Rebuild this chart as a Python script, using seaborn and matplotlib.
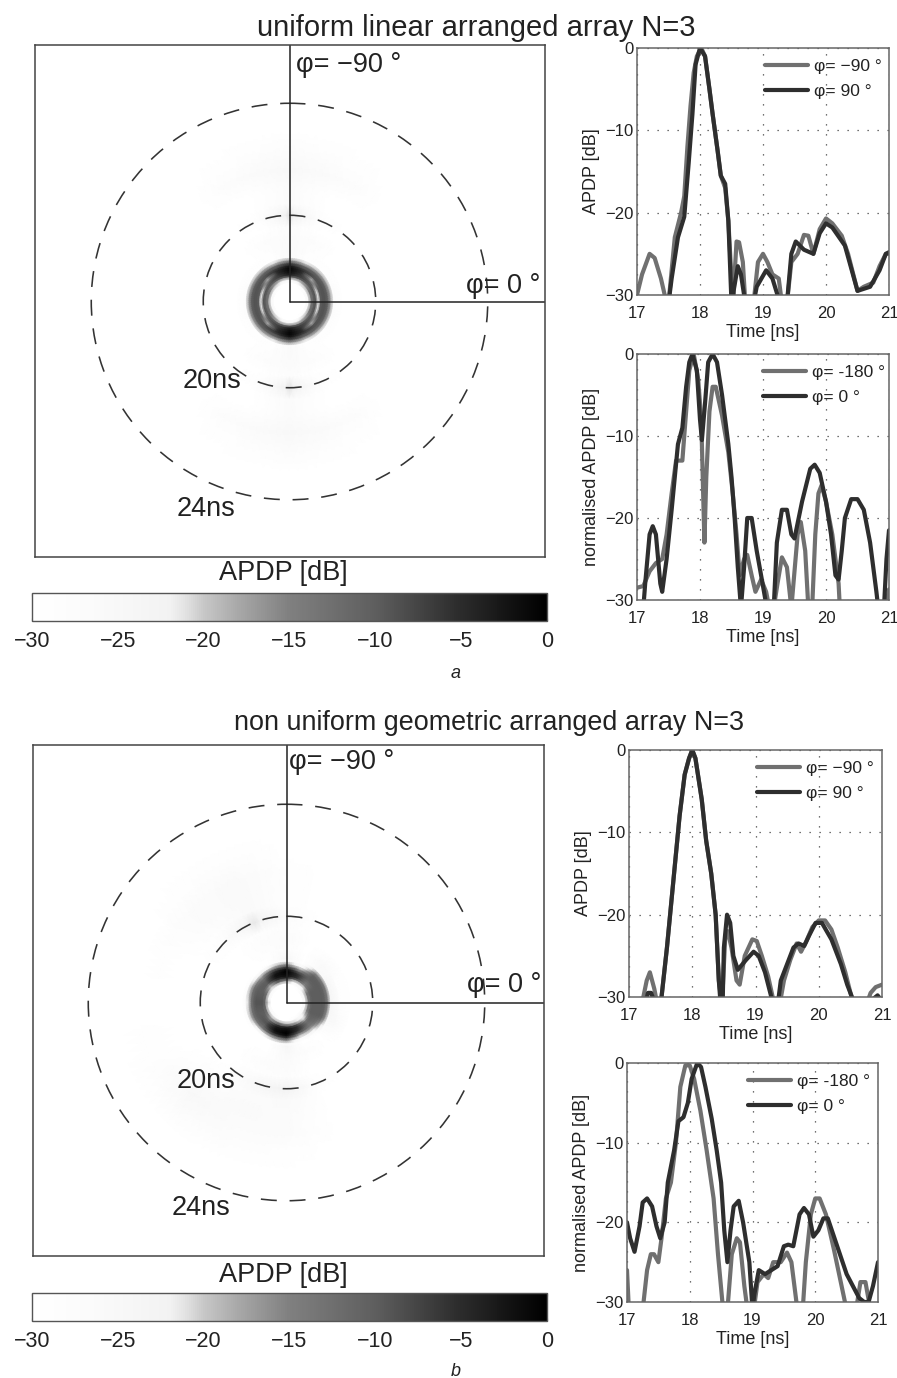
import numpy as np
import seaborn as sns
import matplotlib.pyplot as plt
from matplotlib.colors import LinearSegmentedColormap, Normalize
from matplotlib.cm import ScalarMappable

W, H = 897, 1378

# angles and delays of the polar maps
phi_deg = [0, 22.5, 45, 67.5, 90, 112.5, 135, 157.5, 180, 202.5, 225, 247.5, 270, 292.5, 315, 337.5]
tau_ns = [17.5, 17.6, 17.7, 17.8, 17.87, 17.95, 18.03, 18.12, 18.2, 18.3, 18.4, 18.5, 18.8, 19.2, 19.6, 20.0, 20.4, 21.0, 21.6, 22.2, 23.0, 25.0]

# rows follow tau_ns, columns follow phi_deg
map_a = [
    [-30, -30, -30, -30, -30, -30, -30, -30, -30, -30, -30, -30, -30, -30, -30, -30],
    [-24, -24, -28, -30, -30, -30, -28, -24, -24, -24, -28, -30, -30, -30, -28, -24],
    [-14, -14, -18, -22, -24, -22, -18, -14, -14, -14, -18, -22, -24, -22, -18, -14],
    [-10, -10, -11, -11, -11, -11, -11, -10, -10, -10, -11, -11, -11, -11, -11, -10],
    [-9, -9, -9, -7, -4, -7, -9, -9, -9, -9, -9, -7, -4, -7, -9, -9],
    [-24, -21, -11, -6, -2, -6, -11, -21, -24, -21, -11, -6, -2, -6, -11, -21],
    [-10, -10, -19, -5, -1, -5, -19, -10, -10, -10, -19, -5, -1, -5, -19, -10],
    [-9, -9, -9, -5, -1, -5, -9, -9, -9, -9, -9, -5, -1, -5, -9, -9],
    [-9, -9, -9, -8, -3, -8, -9, -9, -9, -9, -9, -8, -3, -8, -9, -9],
    [-11, -11, -12, -13, -8, -13, -12, -11, -11, -11, -12, -13, -8, -13, -12, -11],
    [-18, -18, -19, -21, -17, -21, -19, -18, -18, -18, -19, -21, -17, -21, -19, -18],
    [-28, -28, -29, -30, -26, -30, -29, -28, -28, -28, -29, -30, -26, -30, -29, -28],
    [-30, -30, -30, -29, -26, -29, -30, -30, -30, -30, -30, -29, -26, -29, -30, -30],
    [-30, -30, -30, -28, -27, -28, -30, -30, -30, -30, -30, -28, -27, -28, -30, -30],
    [-30, -30, -30, -30, -28, -30, -30, -30, -30, -30, -30, -30, -28, -30, -30, -30],
    [-30, -30, -30, -29, -21, -29, -30, -30, -30, -30, -30, -29, -21, -29, -30, -30],
    [-30, -30, -30, -30, -27, -30, -30, -30, -30, -30, -30, -30, -27, -30, -30, -30],
    [-30, -30, -30, -30, -27, -30, -30, -30, -30, -30, -30, -30, -27, -30, -30, -30],
    [-30, -30, -30, -27, -25, -27, -30, -30, -30, -30, -30, -27, -25, -27, -30, -30],
    [-30, -30, -30, -29, -27, -29, -30, -30, -30, -30, -30, -29, -27, -29, -30, -30],
    [-30, -30, -30, -30, -30, -30, -30, -30, -30, -30, -30, -30, -30, -30, -30, -30],
    [-30, -30, -30, -30, -30, -30, -30, -30, -30, -30, -30, -30, -30, -30, -30, -30],
]
map_b = [
    [-30, -30, -30, -30, -30, -30, -30, -30, -30, -30, -30, -30, -30, -30, -30, -30],
    [-22, -24, -26, -28, -30, -30, -26, -24, -20, -24, -26, -30, -30, -30, -28, -22],
    [-14, -15, -24, -20, -18, -16, -18, -13, -11, -13, -20, -14, -16, -24, -24, -14],
    [-11, -11, -20, -8, -5, -6, -13, -10, -9, -10, -16, -6, -5, -12, -16, -11],
    [-10, -10, -14, -5, -2, -3, -10, -10, -9, -10, -10, -3, -2, -6, -14, -10],
    [-10, -10, -12, -5, -1, -2, -9, -10, -9, -10, -10, -2, -1, -5, -13, -10],
    [-10, -10, -13, -6, 0, -2, -10, -10, -9, -10, -11, -3, 0, -6, -11, -10],
    [-10, -10, -14, -12, -2, -5, -12, -11, -11, -11, -14, -6, -2, -12, -10, -10],
    [-10, -10, -17, -20, -7, -11, -15, -13, -14, -13, -17, -12, -8, -18, -10, -10],
    [-11, -11, -22, -27, -17, -20, -23, -19, -21, -19, -24, -21, -17, -26, -11, -11],
    [-15, -16, -28, -30, -26, -30, -30, -28, -28, -28, -30, -29, -27, -30, -16, -15],
    [-24, -25, -30, -30, -24, -30, -30, -30, -30, -30, -30, -30, -24, -30, -26, -24],
    [-29, -26, -30, -28, -26, -30, -30, -30, -30, -30, -30, -29, -28, -30, -26, -29],
    [-30, -30, -30, -30, -27, -28, -30, -30, -30, -30, -30, -28, -27, -30, -30, -30],
    [-30, -30, -30, -30, -28, -29, -30, -30, -30, -30, -30, -29, -28, -30, -30, -30],
    [-30, -30, -30, -29, -22, -25, -30, -30, -30, -30, -28, -21, -27, -30, -30, -30],
    [-30, -30, -30, -30, -26, -27, -29, -30, -30, -30, -29, -26, -29, -30, -30, -30],
    [-30, -30, -30, -30, -27, -26, -27, -30, -30, -30, -27, -26, -29, -30, -30, -30],
    [-30, -30, -30, -30, -27, -27, -25, -29, -30, -29, -27, -26, -29, -30, -30, -30],
    [-30, -30, -30, -30, -29, -28, -27, -29, -30, -30, -29, -28, -30, -30, -30, -30],
    [-30, -30, -30, -30, -30, -30, -30, -30, -30, -30, -30, -30, -30, -30, -30, -30],
    [-30, -30, -30, -30, -30, -30, -30, -30, -30, -30, -30, -30, -30, -30, -30, -30],
]

# grey scale of the colour bar
cmap_db = [-30, -26, -22, -21, -20, -18, -15, -10, -5, 0]
cmap_gray = [1.0, 0.98, 0.95, 0.88, 0.78, 0.66, 0.5, 0.37, 0.17, 0.0]
cbar_ticks = [-30, -25, -20, -15, -10, -5, 0]
ring_delays = [20, 24]

# panel a, top right
t_a1_g = [17.0, 17.08, 17.2, 17.28, 17.38, 17.47, 17.5, 17.6, 17.7, 17.75, 17.8, 17.85, 17.9, 17.95, 18.02, 18.08, 18.15, 18.2, 18.28, 18.33, 18.4, 18.45, 18.5, 18.53, 18.58, 18.62, 18.68, 18.72, 18.85, 18.92, 19.0, 19.07, 19.15, 19.25, 19.3, 19.38, 19.45, 19.55, 19.65, 19.72, 19.8, 19.9, 20.0, 20.1, 20.25, 20.35, 20.5, 20.6, 20.75, 20.85, 20.95, 21.0]
y_a1_g = [-30, -27.5, -25, -25.5, -28, -31, -31, -23, -20, -18, -12, -7, -3, -1, 0, -1, -5, -8, -12.5, -15.5, -17, -21, -28, -30, -23.5, -23.6, -26, -31, -31, -26, -25, -26, -27.5, -28, -31, -31, -26, -25, -22.7, -22.8, -25, -22, -20.7, -21.3, -22.8, -25, -29.5, -29, -28.5, -26.5, -25, -25]
t_a1_d = [17.5, 17.55, 17.65, 17.75, 17.82, 17.88, 17.93, 18.0, 18.08, 18.15, 18.2, 18.28, 18.33, 18.4, 18.45, 18.5, 18.6, 18.65, 18.72, 18.85, 18.9, 19.05, 19.15, 19.25, 19.38, 19.45, 19.52, 19.65, 19.8, 19.9, 20.0, 20.1, 20.3, 20.5, 20.7, 20.85, 20.95, 21.0]
y_a1_d = [-31, -28, -23, -20.5, -14, -8, -2, 0, -1, -5, -8, -12.5, -15.5, -16.5, -21, -31, -26.5, -27.5, -31, -31, -29, -27, -28, -30.5, -31, -25, -23.5, -24.5, -25, -22.5, -21.3, -21.8, -24, -29.5, -29, -27, -25, -24.8]

# panel a, bottom right
t_a2_g = [17.0, 17.1, 17.2, 17.3, 17.4, 17.47, 17.55, 17.62, 17.72, 17.77, 17.83, 17.9, 17.97, 18.02, 18.07, 18.1, 18.15, 18.2, 18.25, 18.35, 18.45, 18.52, 18.58, 18.63, 18.7, 18.75, 18.82, 18.88, 18.97, 19.05, 19.1, 19.17, 19.23, 19.3, 19.38, 19.45, 19.55, 19.6, 19.67, 19.72, 19.78, 19.83, 19.88, 19.93, 20.0, 20.1, 20.2, 20.22, 20.95, 21.0]
y_a2_g = [-28.5, -28.3, -26.5, -25.5, -25, -22, -17, -13, -13, -8, -2, 0, -3, -8, -23, -15, -7, -4, -4, -7.5, -12, -17, -22, -27, -25, -24.5, -27, -29, -27.5, -29, -31, -31, -28, -24.8, -26, -31, -22, -20.5, -24, -31, -31, -22, -17, -16, -18, -22, -28, -31, -31, -28.7]
t_a2_d = [17.1, 17.13, 17.2, 17.25, 17.3, 17.37, 17.4, 17.47, 17.55, 17.6, 17.65, 17.72, 17.78, 17.83, 17.88, 17.95, 18.0, 18.03, 18.08, 18.13, 18.2, 18.27, 18.35, 18.45, 18.5, 18.55, 18.6, 18.65, 18.7, 18.75, 18.82, 18.9, 18.97, 19.05, 19.17, 19.22, 19.3, 19.38, 19.45, 19.5, 19.62, 19.75, 19.82, 19.9, 20.0, 20.08, 20.15, 20.2, 20.25, 20.3, 20.4, 20.5, 20.6, 20.7, 20.8, 20.83, 20.92, 20.96, 21.0]
y_a2_d = [-31, -28, -22, -21, -22, -28, -29, -25, -19, -15, -11, -9, -4, -1, 0, -2, -8, -10.5, -6, -1, 0, -1, -5, -11, -15, -20, -26, -31, -26, -20, -20, -24, -27, -30.5, -31, -23, -19, -19, -22, -22.5, -18, -14, -13.5, -14.5, -18, -22, -27, -27.5, -24, -20, -17.7, -17.7, -19, -23, -29, -31, -31, -25, -21.5]

# panel b, top right
t_b1_g = [17.2, 17.28, 17.33, 17.4, 17.45, 17.5, 17.6, 17.7, 17.8, 17.88, 17.95, 18.0, 18.05, 18.15, 18.22, 18.3, 18.37, 18.42, 18.47, 18.52, 18.56, 18.62, 18.7, 18.75, 18.83, 18.95, 19.02, 19.1, 19.2, 19.3, 19.38, 19.45, 19.55, 19.65, 19.72, 19.8, 19.9, 20.0, 20.1, 20.2, 20.3, 20.42, 20.55, 20.75, 20.82, 20.9, 21.0]
y_b1_g = [-31, -28, -27, -29, -31, -31, -24, -16, -8, -3, -1, 0, -1, -6, -11, -15, -20, -28, -31, -23, -22, -24, -28, -28.5, -25, -23, -23.2, -25, -27.5, -31, -31, -28, -25.5, -23.5, -24.5, -23.3, -21.5, -20.7, -20.7, -21.8, -24, -27, -31, -31, -29.5, -28.8, -28.5]
t_b1_d = [17.25, 17.3, 17.35, 17.42, 17.5, 17.6, 17.7, 17.8, 17.88, 17.95, 18.0, 18.05, 18.15, 18.22, 18.3, 18.37, 18.42, 18.45, 18.48, 18.5, 18.55, 18.6, 18.65, 18.72, 18.85, 18.97, 19.05, 19.15, 19.25, 19.35, 19.4, 19.5, 19.6, 19.68, 19.77, 19.85, 19.95, 20.05, 20.2, 20.35, 20.45, 20.55, 20.75, 20.85, 20.93, 21.0]
y_b1_d = [-31, -29.5, -29.5, -31, -31, -24, -16, -8, -3, -1, 0, -1, -6, -11, -15, -20, -28, -31, -31, -24, -20, -21, -25, -26.7, -25.5, -24.5, -25, -27, -30, -31, -28, -26, -24, -23.5, -23.8, -22.5, -21, -21, -23, -26, -28.5, -30.5, -31, -30.3, -29.8, -30.5]

# panel b, bottom right
t_b2_g = [17.0, 17.03, 17.25, 17.32, 17.38, 17.43, 17.5, 17.55, 17.62, 17.7, 17.78, 17.85, 17.93, 18.0, 18.07, 18.17, 18.27, 18.38, 18.45, 18.52, 18.6, 18.67, 18.75, 18.8, 18.87, 18.92, 19.02, 19.08, 19.18, 19.25, 19.33, 19.45, 19.55, 19.62, 19.7, 19.72, 19.8, 19.85, 19.93, 20.0, 20.07, 20.17, 20.3, 20.42, 20.5, 20.65, 20.72, 20.8, 20.88]
y_b2_g = [-26, -31, -31, -26, -24, -24, -25, -22, -17, -15, -10, -3, -0.3, -0.3, -2, -6, -11, -17, -24, -30, -31, -24, -22, -22.5, -28, -31, -31, -27.5, -26.5, -27, -25, -25, -23.8, -25, -30, -31, -31, -25, -19, -17, -17, -19, -23.5, -28, -31, -31, -27.5, -27.5, -31]
t_b2_d = [17.0, 17.05, 17.12, 17.2, 17.25, 17.32, 17.4, 17.47, 17.53, 17.6, 17.65, 17.75, 17.82, 17.9, 17.97, 18.03, 18.12, 18.18, 18.25, 18.35, 18.43, 18.5, 18.55, 18.6, 18.65, 18.7, 18.78, 18.85, 18.95, 19.0, 19.03, 19.1, 19.2, 19.3, 19.4, 19.5, 19.57, 19.65, 19.75, 19.82, 19.9, 19.97, 20.05, 20.13, 20.2, 20.35, 20.5, 20.6, 20.7, 20.78, 20.85, 20.92, 21.0]
y_b2_d = [-20, -22, -23.7, -20.5, -17.5, -17, -18, -20.5, -22, -20, -15, -11, -7.3, -6.8, -5, -2, 0, -0.5, -3, -7, -11, -15, -21, -25, -21, -18, -17.3, -20, -25, -31, -29, -26, -26.5, -26, -25.5, -23, -22.8, -23, -19, -18.2, -19, -21.8, -21, -19.5, -19.5, -23, -26.5, -28, -29.5, -30, -30, -28, -25]

xticks = [17, 18, 19, 20, 21]
yticks = [-30, -20, -10, 0]

sns.set_style("white")
plt.rcParams['font.family'] = ['Liberation Sans', 'DejaVu Sans']
plt.rcParams['axes.unicode_minus'] = True

fig = plt.figure(figsize=(W / 100, H / 100), dpi=100)


def add_ax(x0, y0, x1, y1):
    return fig.add_axes([x0 / W, 1 - y1 / H, (x1 - x0) / W, (y1 - y0) / H])


def put(x, y, s, size=16, **kw):
    kw.setdefault('va', 'center')
    kw.setdefault('color', '#222222')
    fig.text(x / W, 1 - y / H, s, fontsize=size, **kw)


gray_cmap = LinearSegmentedColormap.from_list(
    'apdp', [((d + 30) / 30, (g, g, g)) for d, g in zip(cmap_db, cmap_gray)])
norm = Normalize(-30, 0)


def polar_map(box, centre, table, scale, t0):
    ax = add_ax(*box)
    # shade along true arcs, not chords between the table's angles
    phi = np.array(phi_deg + [360.0])
    z = np.array(table, dtype=float)
    z = np.column_stack([z, z[:, 0]])
    phi_fine = np.arange(0, 361, 3.0)
    z_fine = np.array([np.interp(phi_fine, phi, row) for row in z])
    r = (np.array(tau_ns) - t0) * scale
    rr, pp = np.meshgrid(r, np.deg2rad(phi_fine), indexing='ij')
    ax.pcolormesh(rr * np.cos(pp), rr * np.sin(pp), z_fine, cmap=gray_cmap, norm=norm, shading='gouraud')
    ax.set_xlim(box[0] - centre[0], box[2] - centre[0])
    ax.set_ylim(box[3] - centre[1], box[1] - centre[1])
    for d in ring_delays:
        ax.add_patch(plt.Circle((0, 0), (d - t0) * scale, fill=False, ec='#333333', lw=1.15, ls=(0, (10, 8))))
    ax.plot([0, 0], [0, box[1] - centre[1]], color='#222222', lw=1.1)
    ax.plot([0, box[2] - centre[0]], [0, 0], color='#222222', lw=1.1)
    ax.set_xticks([])
    ax.set_yticks([])
    for s in ax.spines.values():
        s.set_color('#444444')
        s.set_linewidth(1.1)
    return ax


def colorbar(box):
    cax = add_ax(*box)
    cb = fig.colorbar(ScalarMappable(norm=norm, cmap=gray_cmap), cax=cax, orientation='horizontal')
    cb.set_ticks(cbar_ticks)
    cb.ax.tick_params(labelsize=15.5, length=2, width=0.8, direction='in', pad=7, colors='#222222', top=True)
    cb.outline.set_edgecolor('#555555')
    cb.outline.set_linewidth(1.0)


def line_panel(box, t_g, y_g, t_d, y_d, lab_g, lab_d, ylabel, leg_x):
    ax = add_ax(*box)
    sns.lineplot(x=t_g, y=y_g, ax=ax, color='#707070', lw=3.0, sort=False, estimator=None, label=lab_g)
    sns.lineplot(x=t_d, y=y_d, ax=ax, color='#2e2e2e', lw=3.0, sort=False, estimator=None, label=lab_d)
    ax.set_xlim(17, 21)
    ax.set_ylim(-30, 0)
    ax.set_xticks(xticks)
    ax.set_yticks(yticks)
    ax.grid(True, ls=(0, (1, 7)), color='#444444', lw=0.9)
    ax.set_axisbelow(True)
    ax.tick_params(axis='x', labelsize=12, length=0, pad=8, colors='#222222')
    ax.tick_params(axis='y', labelsize=12, length=0, pad=2.5, colors='#222222')
    ax.set_xlabel('Time [ns]', fontsize=13, labelpad=2, color='#222222')
    ax.set_ylabel(ylabel, fontsize=13, labelpad=4, color='#222222')
    for s in ax.spines.values():
        s.set_color('#666666')
        s.set_linewidth(1.1)
    ax.legend(loc='upper left', bbox_to_anchor=(leg_x, 0.955), frameon=False, fontsize=12.5,
              handlelength=2.5, handletextpad=0.35, labelspacing=0.55, borderpad=0, borderaxespad=0,
              labelcolor='#222222')
    return ax


# a
put(476, 28, 'uniform linear arranged array N=3', size=21, ha='center')
polar_map((35, 45, 545, 557), (289.5, 301.5), map_a, 28, 16.92)
put(296, 65, 'φ= −90 °', size=19.5)
put(466, 286, 'φ= 0 °', size=19.5)
put(183, 381, '20ns', size=19.5)
put(177, 509, '24ns', size=19.5)
put(283, 573, 'APDP [dB]', size=19.5, ha='center')
colorbar((32, 593, 547, 621))
put(456, 673, 'a', size=13, style='italic', ha='center')
line_panel((637, 48, 889, 295), t_a1_g, y_a1_g, t_a1_d, y_a1_d, 'φ= −90 °', 'φ= 90 °', 'APDP [dB]', 0.508)
line_panel((637, 354, 889, 600), t_a2_g, y_a2_g, t_a2_d, y_a2_d, 'φ= -180 °', 'φ= 0 °', 'normalised APDP [dB]', 0.50)

# b
put(489, 723, 'non uniform geometric arranged array N=3', size=19.4, ha='center')
polar_map((33, 745, 544, 1256), (286.5, 1002.5), map_b, 28, 16.92)
put(289, 762, 'φ= −90 °', size=19.5)
put(467, 985, 'φ= 0 °', size=19.5)
put(177, 1081, '20ns', size=19.5)
put(172, 1208, '24ns', size=19.5)
put(283, 1275, 'APDP [dB]', size=19.5, ha='center')
colorbar((32, 1293, 547, 1321))
put(456, 1371, 'b', size=13, style='italic', ha='center')
line_panel((629, 750, 882, 997), t_b1_g, y_b1_g, t_b1_d, y_b1_d, 'φ= −90 °', 'φ= 90 °', 'APDP [dB]', 0.506)
line_panel((627, 1063, 878, 1302), t_b2_g, y_b2_g, t_b2_d, y_b2_d, 'φ= -180 °', 'φ= 0 °', 'normalised APDP [dB]', 0.482)

fig.savefig('out.png', dpi=100, facecolor='white')
plt.close()
